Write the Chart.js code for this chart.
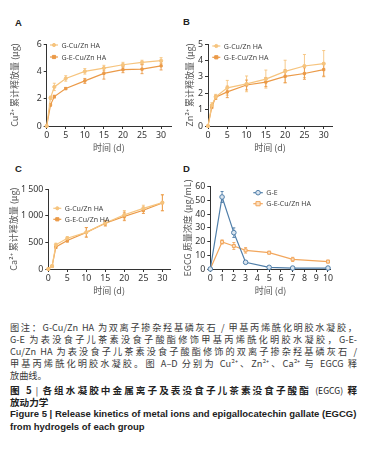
<!DOCTYPE html>
<html>
<head>
<meta charset="utf-8">
<script src="https://cdn.jsdelivr.net/npm/chart.js@4.4.1/dist/chart.umd.min.js"></script>
<style>
  body { margin: 0; width: 367px; height: 463px; background: #fff; position: relative; overflow: hidden; font-family: "Noto Sans CJK SC", sans-serif; }
  canvas { position: absolute; }
  .tag { position: absolute; font: bold 9.5px "Liberation Sans", sans-serif; color: #222; line-height: 10px; }
  .note { position: absolute; left: 10px; top: 321px; width: 347px; font-size: 9.2px; line-height: 12px; color: #3a3a3a; }
  .note div, .title div { text-align: justify; text-align-last: justify; }
  .note div.last, .title div.last { text-align-last: left; }
  .title { position: absolute; left: 10px; top: 384px; width: 347px; font-size: 9.6px; line-height: 12px; color: #222; font-weight: bold; }
  .title .thin { font-weight: normal; font-size: 8.6px; }
  .en { position: absolute; left: 10px; top: 408px; width: 350px; font: bold 9.5px "Liberation Sans", sans-serif; line-height: 12.5px; color: #222; }
</style>
</head>
<body>
<div class="tag" style="left:15px;top:18px">A</div>
<div class="tag" style="left:183px;top:17px">B</div>
<div class="tag" style="left:15px;top:164px">C</div>
<div class="tag" style="left:183px;top:164px">D</div>

<canvas id="chartA" width="184" height="125" style="left:0;top:30px"></canvas>
<canvas id="chartB" width="187" height="125" style="left:180px;top:30px"></canvas>
<canvas id="chartC" width="184" height="123" style="left:0;top:175px"></canvas>
<canvas id="chartD" width="187" height="123" style="left:180px;top:175px"></canvas>

<div class="note">
  <div>图注：G-Cu/Zn HA 为双离子掺杂羟基磷灰石 / 甲基丙烯酰化明胶水凝胶，</div>
  <div>G-E 为表没食子儿茶素没食子酸酯修饰甲基丙烯酰化明胶水凝胶，G-E-</div>
  <div>Cu/Zn HA 为表没食子儿茶素没食子酸酯修饰的双离子掺杂羟基磷灰石 /</div>
  <div>甲基丙烯酰化明胶水凝胶。图 A–D 分别为 Cu²⁺、Zn²⁺、Ca²⁺ 与 EGCG 释</div>
  <div class="last">放曲线。</div>
</div>
<div class="title">
  <div>图 5 <span class="thin">|</span> 各组水凝胶中金属离子及表没食子儿茶素没食子酸酯 <span class="thin">(EGCG)</span> 释</div>
  <div class="last">放动力学</div>
</div>
<div class="en">
  <div>Figure 5 | Release kinetics of metal ions and epigallocatechin gallate (EGCG)</div>
  <div>from hydrogels of each group</div>
</div>

<script>
// time points (d)
const days = [0, 1, 2, 5, 10, 15, 20, 25, 30];
const dayTicks = [0, 5, 10, 15, 20, 25, 30];
const egcgDays = [0, 1, 2, 3, 5, 7, 10];
const egcgTicks = [0, 1, 2, 3, 4, 5, 6, 7, 8, 9, 10];

// A: Cu2+ (μg)
const cuG = [0, 2.06, 2.86, 3.48, 4.0, 4.24, 4.48, 4.65, 4.78];
const cuGErr = [0, 0.12, 0.27, 0.2, 0.2, 0.2, 0.18, 0.16, 0.22];
const cuGE = [0, 1.55, 2.15, 2.74, 3.3, 3.85, 4.12, 4.16, 4.4];
const cuGEErr = [0, 0.1, 0.1, 0.08, 0.18, 0.42, 0.22, 0.33, 0.3];
const cuTicks = [0, 2, 4, 6];

// B: Zn2+ (μg)
const znG = [0, 1.27, 1.78, 2.33, 2.57, 2.86, 3.33, 3.66, 3.8];
const znGErr = [0, 0.15, 0.15, 0.45, 0.48, 0.55, 0.68, 0.7, 0.8];
const znGE = [0, 1.18, 1.75, 2.08, 2.5, 2.68, 3.03, 3.2, 3.44];
const znGEErr = [0, 0.12, 0.12, 0.35, 0.3, 0.28, 0.4, 0.35, 0.4];
const znTicks = [0, 1, 2, 3, 4, 5];

// C: Ca2+ (μg)
const caG = [0, 55, 455, 580, 690, 865, 1020, 1140, 1250];
const caGErr = [0, 15, 30, 30, 90, 50, 80, 60, 150];
const caGE = [0, 55, 415, 535, 690, 860, 990, 1105, 1245];
const caGEErr = [0, 15, 30, 30, 90, 50, 80, 60, 150];
const caTicks = [0, 500, 1000, 1500];
const caTickLabels = ['0', '500', '1 000', '1 500'];

// D: EGCG (μg/mL)
const egcgE = [0, 52.5, 26.5, 4.9, 1.2, 0.7, 0.7];
const egcgEErr = [0, 4, 3.5, 1, 0.5, 0.5, 0.5];
const egcgECZ = [0, 19.7, 16.8, 13.6, 11.9, 7.0, 5.4];
const egcgECZErr = [0, 1.5, 2.5, 2, 1, 1.5, 1];
const egcgYTicks = [0, 10, 20, 30, 40, 50, 60];

const lightOrange = '#f6c47e';
const darkOrange = '#eb9a48';
const blue = '#4f7ea9';
const orangeD = '#f2a65c';
const axisColor = '#333';
const numFont = { family: '"Noto Sans", sans-serif', size: 8.8 };
const cjkFont = { family: '"Noto Sans CJK SC", sans-serif', size: 9 };

// error bars drawn through the chart's own scales
const errorBars = {
    id: 'errorBars',
    beforeDatasetsDraw(chart) {
        const { ctx, scales: { x, y } } = chart;
        chart.data.datasets.forEach(ds => {
            if (!ds.errors) return;
            ctx.save();
            ctx.strokeStyle = ds.borderColor;
            ctx.lineWidth = 0.9;
            ds.data.forEach((p, i) => {
                const e = ds.errors[i];
                if (!e) return;
                const px = x.getPixelForValue(p.x);
                const top = y.getPixelForValue(p.y + e);
                const bot = y.getPixelForValue(p.y - e);
                ctx.beginPath();
                ctx.moveTo(px, top); ctx.lineTo(px, bot);
                ctx.moveTo(px - 1.5, top); ctx.lineTo(px + 1.5, top);
                ctx.moveTo(px - 1.5, bot); ctx.lineTo(px + 1.5, bot);
                ctx.stroke();
            });
            ctx.restore();
        });
    }
};

function drawMarker(ctx, style, r, x, y) {
    ctx.beginPath();
    if (style === 'rect') ctx.rect(x - r, y - r, r * 2, r * 2);
    else ctx.arc(x, y, r, 0, Math.PI * 2);
    ctx.fill();
    ctx.stroke();
}

// small legend inside the plot area
const miniLegend = {
    id: 'miniLegend',
    afterDraw(chart, args, opts) {
        const { ctx, chartArea } = chart;
        chart.data.datasets.forEach((ds, i) => {
            const x = chartArea.left + opts.x;
            const y = chartArea.top + opts.y + i * opts.gap;
            ctx.save();
            ctx.strokeStyle = ds.borderColor;
            ctx.fillStyle = ds.pointBackgroundColor;
            ctx.lineWidth = 1.2;
            ctx.beginPath();
            ctx.moveTo(x, y); ctx.lineTo(x + opts.len, y);
            ctx.stroke();
            ctx.lineWidth = 1;
            drawMarker(ctx, ds.pointStyle, ds.pointRadius, x + opts.len / 2, y);
            ctx.fillStyle = '#444';
            ctx.font = '7px "Noto Sans", sans-serif';
            ctx.textBaseline = 'middle';
            ctx.fillText(ds.label, x + opts.len + 3.5, y + 0.5);
            ctx.restore();
        });
    }
};

function buildChart(id, o) {
    return new Chart(document.getElementById(id), {
        type: 'line',
        data: {
            datasets: o.series.map(s => ({
                label: s.label,
                data: o.xs.map((d, i) => ({ x: d, y: s.values[i] })),
                errors: s.errors,
                borderColor: s.color,
                backgroundColor: s.fill,
                pointBackgroundColor: s.fill,
                pointBorderColor: s.color,
                borderWidth: 1.2,
                pointStyle: s.point,
                pointRadius: s.radius,
                pointBorderWidth: 1,
                tension: 0,
                clip: false
            }))
        },
        options: {
            responsive: false,
            animation: false,
            layout: { padding: { top: o.padTop, right: o.padRight, left: 0, bottom: 0 } },
            plugins: {
                legend: { display: false },
                tooltip: { enabled: false },
                miniLegend: o.legend
            },
            scales: {
                x: {
                    type: 'linear',
                    min: 0,
                    max: o.xMax,
                    afterBuildTicks: s => { s.ticks = o.xTicks.map(v => ({ value: v })); },
                    afterFit: s => { s.height = 29; },
                    grid: { drawOnChartArea: false, tickLength: 3, color: axisColor },
                    border: { color: axisColor, width: 1 },
                    ticks: { color: '#333', font: numFont, padding: 1, maxRotation: 0, autoSkip: false },
                    title: { display: true, text: '时间 (d)', color: '#555', font: cjkFont, padding: { top: 0, bottom: 2 } }
                },
                y: {
                    min: 0,
                    max: o.yMax,
                    afterBuildTicks: s => { s.ticks = o.yTicks.map(v => ({ value: v })); },
                    afterFit: s => { s.width = o.yWidth; },
                    grid: { drawOnChartArea: false, tickLength: 3, color: axisColor },
                    border: { color: axisColor, width: 1 },
                    ticks: {
                        color: '#333', font: numFont, padding: 2, autoSkip: false,
                        callback: (v, i) => o.yLabels ? o.yLabels[i] : String(v)
                    },
                    title: { display: true, text: o.yTitle, color: '#555', font: cjkFont, padding: { top: o.yTitlePad, bottom: 0 } }
                }
            }
        },
        plugins: [errorBars, miniLegend]
    });
}

const seriesG = (values, errors) => ({ label: 'G-Cu/Zn HA', values, errors, color: lightOrange, fill: lightOrange, point: 'circle', radius: 1.6 });
const seriesGE = (values, errors) => ({ label: 'G-E-Cu/Zn HA', values, errors, color: darkOrange, fill: darkOrange, point: 'rect', radius: 1.6 });

buildChart('chartA', {
    xs: days, xTicks: dayTicks, xMax: 32.6, yMax: 6, yTicks: cuTicks,
    yTitle: 'Cu²⁺ 累计释放量 (μg)', yTitlePad: 9.6, yWidth: 46.7, padTop: 14, padRight: 13,
    legend: { x: 3.3, y: 1, gap: 12, len: 8 },
    series: [seriesG(cuG, cuGErr), seriesGE(cuGE, cuGEErr)]
});

buildChart('chartB', {
    xs: days, xTicks: dayTicks, xMax: 32.15, yMax: 5, yTicks: znTicks,
    yTitle: 'Zn²⁺ 累计释放量 (μg)', yTitlePad: 4, yWidth: 28, padTop: 14, padRight: 35,
    legend: { x: 4.3, y: 2, gap: 11.3, len: 8 },
    series: [seriesG(znG, znGErr), seriesGE(znGE, znGEErr)]
});

buildChart('chartC', {
    xs: days, xTicks: dayTicks, xMax: 32, yMax: 1500, yTicks: caTicks, yLabels: caTickLabels,
    yTitle: 'Ca²⁺ 累计释放量 (μg)', yTitlePad: 8.6, yWidth: 48.3, padTop: 14.3, padRight: 14,
    legend: { x: 5, y: 19, gap: 11, len: 8 },
    series: [seriesG(caG, caGErr), seriesGE(caGE, caGEErr)]
});

buildChart('chartD', {
    xs: egcgDays, xTicks: egcgTicks, xMax: 10.23, yMax: 60, yTicks: egcgYTicks,
    yTitle: 'EGCG 质量浓度 (μg/mL)', yTitlePad: 2, yWidth: 30.3, padTop: 11.7, padRight: 36.3,
    legend: { x: 43, y: 6, gap: 11, len: 9.5 },
    series: [
        { label: 'G-E', values: egcgE, errors: egcgEErr, color: blue, fill: '#dbe5ef', point: 'circle', radius: 2.3 },
        { label: 'G-E-Cu/Zn HA', values: egcgECZ, errors: egcgECZErr, color: orangeD, fill: '#fbe1c4', point: 'rect', radius: 2.1 }
    ]
});
</script>
</body>
</html>
